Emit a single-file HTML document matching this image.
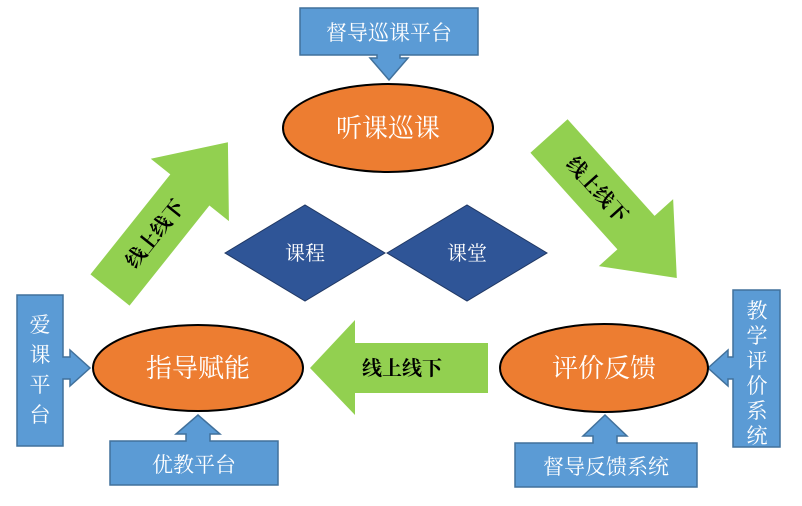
<!DOCTYPE html>
<html><head><meta charset="utf-8"><style>
html,body{margin:0;padding:0;background:#fff}
svg text{font-family:"Liberation Serif","Noto Serif CJK SC",serif}
</style></head><body>
<svg width="802" height="501" viewBox="0 0 802 501" xmlns="http://www.w3.org/2000/svg">
<path d="M300,8 H478 V55 H400 V58 H408 L389,80 L370,58 H377 V55 H300 Z" fill="#5b9bd5" stroke="#41719c" stroke-width="1.5"/>
<text x="389" y="40" font-size="21" fill="#fff" text-anchor="middle">督导巡课平台</text>
<path d="M17,295 H63 V357 H70 V350 L90,368 L70,386 V379 H63 V446 H17 Z" fill="#5b9bd5" stroke="#41719c" stroke-width="1.5"/>
<text x="40" y="332" font-size="21" fill="#fff" text-anchor="middle">爱</text>
<text x="40" y="362" font-size="21" fill="#fff" text-anchor="middle">课</text>
<text x="40" y="392" font-size="21" fill="#fff" text-anchor="middle">平</text>
<text x="40" y="422" font-size="21" fill="#fff" text-anchor="middle">台</text>
<path d="M110,441 H186 V434 H176 L198,415 L220,434 H210 V441 H278 V485 H110 Z" fill="#5b9bd5" stroke="#41719c" stroke-width="1.5"/>
<text x="194" y="472" font-size="21" fill="#fff" text-anchor="middle">优教平台</text>
<path d="M780,290 V447 H733 V379 H728 V386 L708,368 L728,350 V357 H733 V290 Z" fill="#5b9bd5" stroke="#41719c" stroke-width="1.5"/>
<text x="757" y="318" font-size="21" fill="#fff" text-anchor="middle">教</text>
<text x="757" y="343" font-size="21" fill="#fff" text-anchor="middle">学</text>
<text x="757" y="368" font-size="21" fill="#fff" text-anchor="middle">评</text>
<text x="757" y="393" font-size="21" fill="#fff" text-anchor="middle">价</text>
<text x="757" y="418" font-size="21" fill="#fff" text-anchor="middle">系</text>
<text x="757" y="443" font-size="21" fill="#fff" text-anchor="middle">统</text>
<path d="M515,443 H593 V436 H583 L605,415 L627,436 H617 V443 H697 V487 H515 Z" fill="#5b9bd5" stroke="#41719c" stroke-width="1.5"/>
<text x="606" y="474" font-size="21" fill="#fff" text-anchor="middle">督导反馈系统</text>
<ellipse cx="388" cy="128" rx="105" ry="44" fill="#ed7d31" stroke="#000" stroke-width="2"/>
<text x="388" y="137" font-size="26" fill="#fff" text-anchor="middle">听课巡课</text>
<ellipse cx="198" cy="368" rx="105" ry="43" fill="#ed7d31" stroke="#000" stroke-width="2"/>
<text x="198" y="377" font-size="26" fill="#fff" text-anchor="middle">指导赋能</text>
<ellipse cx="604" cy="368" rx="104" ry="44" fill="#ed7d31" stroke="#000" stroke-width="2"/>
<text x="604" y="377" font-size="26" fill="#fff" text-anchor="middle">评价反馈</text>
<polygon points="225,253 305,205 385,253 305,301" fill="#2f5597" stroke="#203864" stroke-width="1"/>
<text x="305" y="260" font-size="20" fill="#fff" text-anchor="middle">课程</text>
<polygon points="387,253 467,205 547,253 467,301" fill="#2f5597" stroke="#203864" stroke-width="1"/>
<text x="467" y="260" font-size="20" fill="#fff" text-anchor="middle">课堂</text>
<polygon points="488,343 488,393 355,393 355,415 310,368 355,320 355,343" fill="#92d050"/>
<text x="402" y="375" font-size="20" font-weight="bold" fill="#000" text-anchor="middle">线上线下</text>
<g transform="translate(110,290) rotate(-51.4)">
<polygon points="0,-25 128,-25 128,-50 189,0 128,50 128,25 0,25" fill="#92d050"/>
<text x="72" y="7" font-size="20" font-weight="bold" fill="#000" text-anchor="middle">线上线下</text>
</g>
<g transform="translate(549,136) rotate(48)">
<polygon points="0,-25 130,-25 130,-50 191,0 130,50 130,25 0,25" fill="#92d050"/>
<text x="72" y="7" font-size="20" font-weight="bold" fill="#000" text-anchor="middle">线上线下</text>
</g>
</svg>
</body></html>
